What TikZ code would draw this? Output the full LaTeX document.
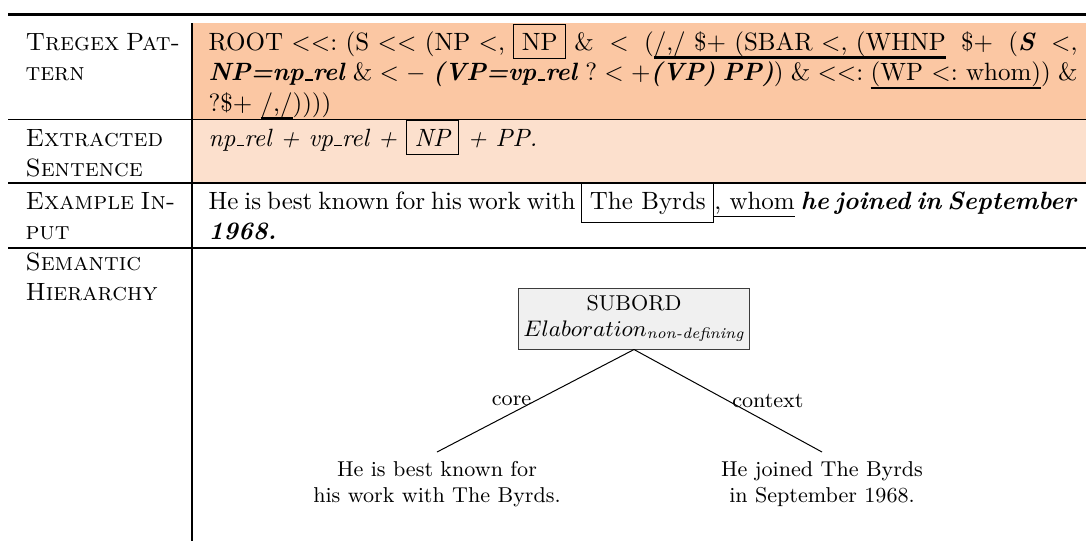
\documentclass[tikz,border=0pt]{standalone}
\usepackage{amsmath}
\definecolor{rowA}{RGB}{251,199,163}
\definecolor{rowB}{RGB}{252,224,205}
\definecolor{boxfill}{RGB}{240,240,240}
\definecolor{boxdraw}{RGB}{60,60,60}
\frenchspacing
\newcommand\bi[1]{\textbf{\textit{#1}}}
\newcommand\us{\leavevmode\kern.06em\vbox{\hrule height 0.5pt width .3em}}
\newcommand\myul[1]{\setbox0=\hbox{#1}\rlap{\rule[-3.4pt]{\wd0}{0.9pt}}\box0\relax}
\newcommand\thinul[1]{\setbox0=\hbox{#1}\rlap{\rule[-3.2pt]{\wd0}{0.5pt}}\box0\relax}
\newcommand\fullrow[1]{\hbox to 347.6pt{\spaceskip=3.33pt plus 3pt minus 1.6pt\relax #1}}
\newcommand\lcolrow[1]{\hbox to 59.2pt{#1}}
\newcommand\treefont{\fontsize{8.6}{10.4}\selectfont}
\begin{document}
\begin{tikzpicture}[x=0.4pt,y=-0.4pt,
  txt/.style={anchor=base west, inner sep=0pt, font=\normalsize},
  rootbox/.style={draw=boxdraw, fill=boxfill, font=\treefont, align=center,
    minimum width=87.2pt, minimum height=24.4pt, inner sep=2pt},
  leaf/.style={font=\treefont, align=center, inner sep=3.6pt, anchor=north},
  lab/.style={font=\treefont, inner sep=1.5pt}]
\useasboundingbox (0,0) rectangle (1086,542);
% row fills
\fill[rowA] (192,23) rectangle (1086,119);
\fill[rowB] (192,119) rectangle (1086,183);
% rules
\draw[line width=1.2pt] (8,14) -- (1086,14);
\draw[line width=0.4pt] (8,119) -- (1086,119);
\draw[line width=0.7pt] (8,183) -- (1086,183);
\draw[line width=0.7pt] (8,248) -- (1086,248);
\draw[line width=0.5pt] (192,23) -- (192,541);
% left column
\node[txt] (l1a) at (25,50) {\lcolrow{\textsc{Tregex Pat-}}};
\node[txt] (l1b) at (25,80.5) {\textsc{tern}};
\node[txt] (l2a) at (25,146) {\textsc{Extracted}};
\node[txt] (l2b) at (25,176) {\textsc{Sentence}};
\node[txt] (l3a) at (25,209) {\lcolrow{\textsc{Example In-}}};
\node[txt] (l3b) at (25,239) {\textsc{put}};
\node[txt] (l4a) at (25,270) {\textsc{Semantic}};
\node[txt] (l4b) at (25,300) {\textsc{Hierarchy}};
% content column
\node[txt] (c1a) at (208,50) {\fullrow{{\spaceskip=3.33pt\relax ROOT $<<$: (S $<<$ (NP $<$, \fbox{NP} }\& $<$ (\myul{/,/ \$+ (SBAR $<$, (WHNP} \$+ (\bi{S} $<$,}};
\node[txt] (c1b) at (208,80.5) {\fullrow{\bi{NP=np\us rel} \& $<$ $-$ \bi{(VP=vp\us rel} ? $<$ +\bi{(VP) PP)}) \& $<<$: \myul{(WP $<$: whom)}) \&}};
\node[txt] (c1c) at (208,111) {?\$+ \myul{/,/}))))};
\node[txt] (c2a) at (208,146) {\textit{np\us rel + vp\us rel + \fbox{NP} + PP.}};
\node[txt] (c3a) at (208,209) {\fullrow{He is best known for his work with \fbox{The Byrds}\thinul{, whom} \bi{he joined in September}}};
\node[txt] (c3b) at (208,239) {\bi{1968.}};
% tree
\node[rootbox] (r) at (634,318.5) {SUBORD\\$Elaboration_{\textit{non-defining}}$};
\node[leaf] (a) at (437,452) {He is best known for\\his work with The Byrds.};
\node[leaf] (b) at (822,452) {He joined The Byrds\\in September 1968.};
\draw[line width=0.4pt] (r.south) -- node[lab, left] (cl) {core} (a.north);
\draw[line width=0.4pt] (r.south) -- node[lab, right] (xl) {context} (b.north);
\end{tikzpicture}
\end{document}
